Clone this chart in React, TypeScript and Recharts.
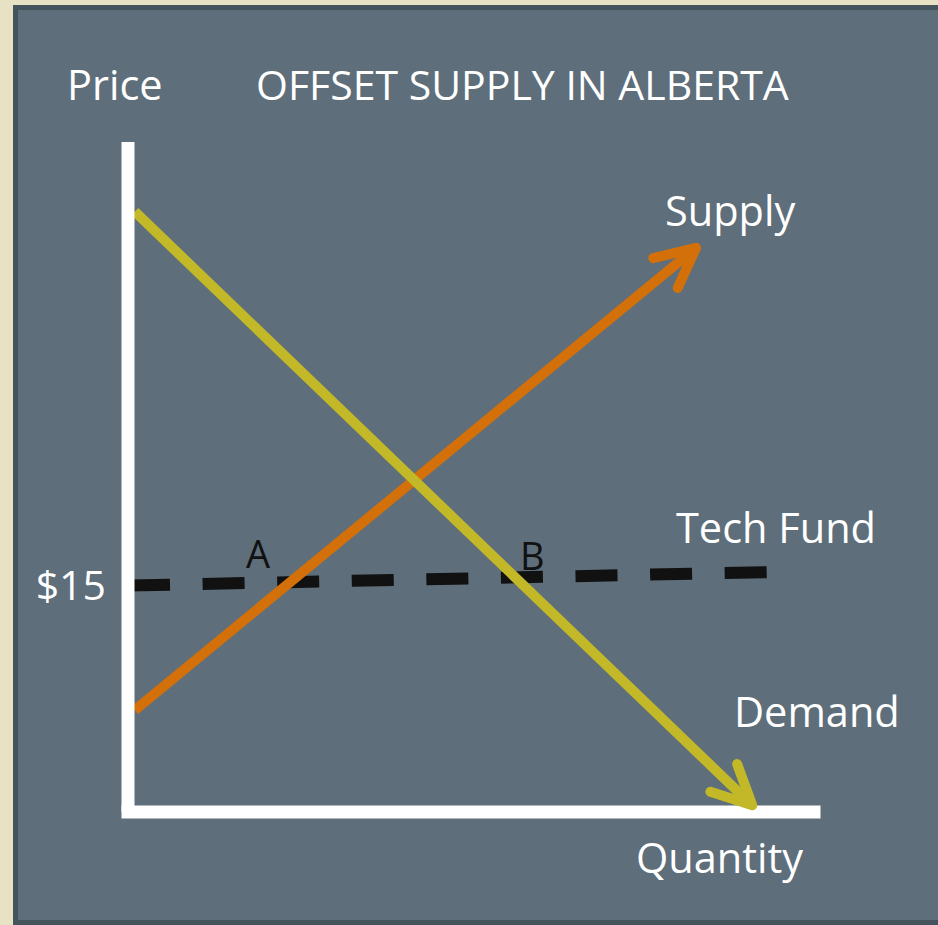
import { LineChart, Line, XAxis, YAxis, Customized } from 'recharts'

// quantity (x) / price (y), both on a 0-100 scale
const supplyPoints = [
  { q: 1, p: 15.2 },
  { q: 82.8, p: 84.2 },
]
const demandPoints = [
  { q: 1, p: 89.6 },
  { q: 91, p: 1 },
]
const techFundPoints = [
  { q: 0, p: 33.8 },
  { q: 93.3, p: 35.8 },
]
const priceTicks = [33.8]
const priceTickLabels = ['$15']

const FONT = '"Open Sans", "Noto Sans", sans-serif'
const SUPPLY_COLOR = '#d4700a'
const DEMAND_COLOR = '#c2b828'

const texts = [
  { t: 'Price', x: 67, y: 100, size: 41.5, fill: '#fff' },
  { t: 'OFFSET SUPPLY IN ALBERTA', x: 256, y: 100, size: 41, fill: '#fff' },
  { t: 'Supply', x: 665, y: 226, size: 41.5, fill: '#fff' },
  { t: 'Tech Fund', x: 676, y: 543, size: 41.5, fill: '#fff' },
  { t: 'Demand', x: 734, y: 727, size: 41.5, fill: '#fff' },
  { t: 'Quantity', x: 636, y: 873, size: 41.5, fill: '#fff' },
  { t: 'A', x: 246, y: 568, size: 38, fill: '#111' },
  { t: 'B', x: 520, y: 570, size: 38, fill: '#111' },
]

function TextLayer() {
  return (
    <g>
      {texts.map((d) => (
        <text key={d.t} x={d.x} y={d.y} fill={d.fill} fontSize={d.size} fontFamily={FONT}>
          {d.t}
        </text>
      ))}
    </g>
  )
}

const arrowHead = (color: string) => (props: any) => {
  const { cx, cy, index, points } = props
  const key = `arrow-${index}`
  if (!points || index !== points.length - 1) return <g key={key} />
  const prev = points[index - 1]
  const ang = Math.atan2(prev.y - cy, prev.x - cx)
  const spread = (26 * Math.PI) / 180
  const len = 44
  const x1 = cx + len * Math.cos(ang + spread)
  const y1 = cy + len * Math.sin(ang + spread)
  const x2 = cx + len * Math.cos(ang - spread)
  const y2 = cy + len * Math.sin(ang - spread)
  return (
    <path
      key={key}
      d={`M${x1},${y1}L${cx},${cy}L${x2},${y2}`}
      stroke={color}
      strokeWidth={10}
      strokeLinecap="round"
      strokeLinejoin="round"
      fill="none"
    />
  )
}

export default function App() {
  return (
    <div
      style={{
        position: 'absolute',
        left: 0,
        top: 0,
        width: 938,
        height: 925,
        background: '#e8e2c4',
        overflow: 'hidden',
        fontFamily: FONT,
      }}
    >
      <div
        style={{
          position: 'absolute',
          left: 13,
          top: 5,
          width: 940,
          height: 920,
          boxSizing: 'border-box',
          border: '5px solid #45535d',
          background: '#5e6e7a',
        }}
      />
      <div style={{ position: 'absolute', left: 0, top: 0 }}>
        <LineChart width={938} height={925} margin={{ top: 142, right: 124, bottom: 112, left: 0 }}>
          <XAxis
            type="number"
            dataKey="q"
            domain={[0, 100]}
            height={1}
            tick={false}
            tickLine={false}
            axisLine={{ stroke: '#fff', strokeWidth: 13, strokeLinecap: 'square' }}
          />
          <YAxis
            type="number"
            dataKey="p"
            domain={[0, 100]}
            width={128}
            ticks={priceTicks}
            tickFormatter={(v: number) => priceTickLabels[priceTicks.indexOf(v)] ?? ''}
            tick={{ fill: '#fff', fontSize: 41, fontFamily: FONT }}
            tickLine={false}
            tickSize={0}
            tickMargin={22}
            axisLine={{ stroke: '#fff', strokeWidth: 13 }}
          />
          <Line
            data={techFundPoints}
            dataKey="p"
            type="linear"
            stroke="#111"
            strokeWidth={12}
            strokeDasharray="42 32.6"
            dot={false}
            activeDot={false}
            isAnimationActive={false}
          />
          <Line
            data={supplyPoints}
            dataKey="p"
            type="linear"
            stroke={SUPPLY_COLOR}
            strokeWidth={10}
            dot={arrowHead(SUPPLY_COLOR)}
            activeDot={false}
            isAnimationActive={false}
          />
          <Line
            data={demandPoints}
            dataKey="p"
            type="linear"
            stroke={DEMAND_COLOR}
            strokeWidth={10}
            dot={arrowHead(DEMAND_COLOR)}
            activeDot={false}
            isAnimationActive={false}
          />
          <Customized component={TextLayer} />
        </LineChart>
      </div>
    </div>
  )
}
